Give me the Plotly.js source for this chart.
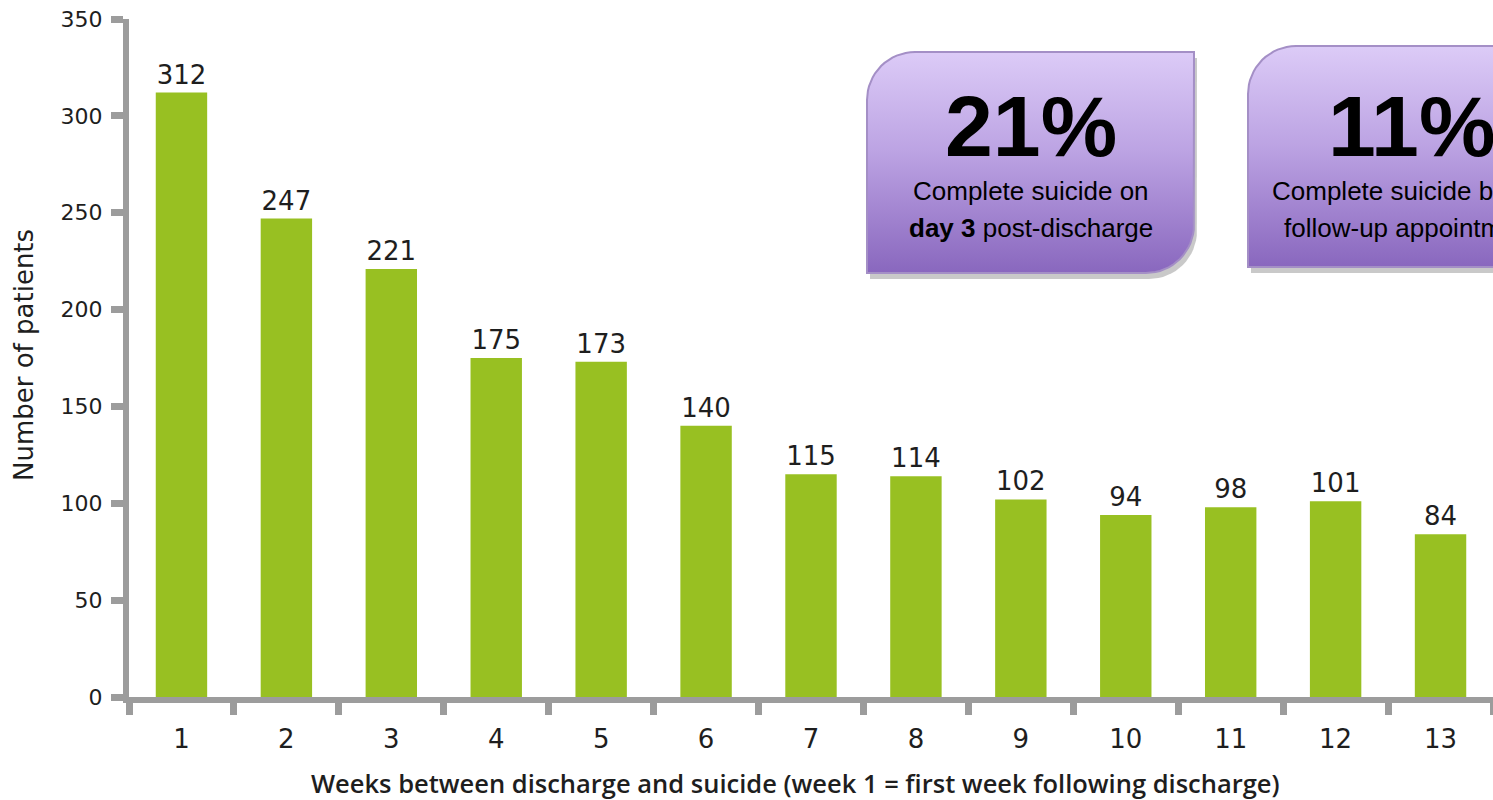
<!DOCTYPE html>
<html>
<head>
<meta charset="utf-8">
<script src="https://cdn.plot.ly/plotly-3.0.1.min.js"></script>
<style>html,body{margin:0;padding:0;background:#fff;}#chart{width:1493px;height:800px;}</style>
</head>
<body>
<div id="chart"></div>
<script>
// ---- data ----
const weeks = ["1","2","3","4","5","6","7","8","9","10","11","12","13"];
const patients = [312, 247, 221, 175, 173, 140, 115, 114, 102, 94, 98, 101, 84];
const yTicks = [0, 50, 100, 150, 200, 250, 300, 350];
const xTitle = "Weeks between discharge and suicide (week 1 = first week following discharge)";
const yTitle = "Number of patients";
const calloutBig = ["21%", "11%"];
const calloutLine1 = ["Complete suicide on", "Complete suicide before"];
const calloutLine2 = ["<b>day 3</b> post-discharge", "follow-up appointment"];

// ---- layout geometry (pixels) ----
const W = 1493, H = 800;
const L = 129, R = 0, T = 19, B = 103;
const axisGrey = "#9c9c9c";
const numFont = "DejaVu Sans, Verdana, sans-serif";
const titleFont = "Open Sans, DejaVu Sans, sans-serif";
const boxFont = "Liberation Sans Narrow, Arial Narrow, Liberation Sans, Arial, sans-serif";

// callout box frames in pixel coords [x0, y0, x1, y1]
const boxes = [[867, 52, 1194, 273], [1248, 46, 1575, 267]];
const rad = 48;

function boxOutline(b, dx, dy) {
  const [x0, y0, x1, y1] = [b[0] + dx, b[1] + dy, b[2] + dx, b[3] + dy];
  const xs = [], ys = [];
  const n = 16;
  for (let i = 0; i <= n; i++) {
    const a = Math.PI + (Math.PI / 2) * (i / n);
    xs.push(x0 + rad + rad * Math.cos(a)); ys.push(y0 + rad + rad * Math.sin(a));
  }
  xs.push(x1); ys.push(y0);
  for (let i = 0; i <= n; i++) {
    const a = (Math.PI / 2) * (i / n);
    xs.push(x1 - rad + rad * Math.cos(a)); ys.push(y1 - rad + rad * Math.sin(a));
  }
  xs.push(x0); ys.push(y1);
  xs.push(xs[0]); ys.push(ys[0]);
  return {xs, ys};
}

const traces = [{
  type: "bar",
  x: weeks,
  y: patients,
  marker: {color: "#98c022"},
  width: 0.49,
  text: patients.map(String),
  textposition: "outside",
  textfont: {family: numFont, size: 26, color: "#1e1e1e"},
  cliponaxis: false,
  hoverinfo: "x+y",
  showlegend: false
}];

boxes.forEach(b => {
  const s = boxOutline(b, 3, 6);
  traces.push({
    type: "scatter", mode: "lines", x: s.xs, y: s.ys, xaxis: "x2", yaxis: "y2",
    fill: "toself", fillcolor: "rgba(60,60,60,0.28)", line: {width: 0, color: "rgba(0,0,0,0)"},
    hoverinfo: "skip", showlegend: false
  });
  const o = boxOutline(b, 0, 0);
  traces.push({
    type: "scatter", mode: "lines", x: o.xs, y: o.ys, xaxis: "x2", yaxis: "y2",
    fill: "toself",
    fillgradient: {type: "vertical", start: b[1], stop: b[3],
      colorscale: [[0, "#dccbf7"], [0.45, "#bca3e3"], [1, "#8967be"]]},
    line: {width: 2, color: "#a48fc6"},
    hoverinfo: "skip", showlegend: false
  });
});

const px2x = px => (px - L) / (W - L - R);
const px2y = py => 1 - (py - T) / (H - T - B);

const annotations = [];
boxes.forEach((b, i) => {
  const cx = (b[0] + b[2]) / 2;
  annotations.push({xref: "paper", yref: "paper", x: px2x(cx), y: px2y(126), xanchor: "center", yanchor: "middle",
    text: "<b>" + calloutBig[i] + "</b>", showarrow: false,
    font: {family: boxFont, size: 86, color: "#000"}});
  annotations.push({xref: "paper", yref: "paper", x: px2x(cx), y: px2y(191), xanchor: "center", yanchor: "middle",
    text: calloutLine1[i], showarrow: false,
    font: {family: boxFont, size: 26, color: "#000"}});
  annotations.push({xref: "paper", yref: "paper", x: px2x(cx), y: px2y(228), xanchor: "center", yanchor: "middle",
    text: calloutLine2[i], showarrow: false,
    font: {family: boxFont, size: 26, color: "#000"}});
});
annotations.push({xref: "paper", yref: "paper", x: px2x(795), y: px2y(783), xanchor: "center", yanchor: "middle",
  text: xTitle, showarrow: false, font: {family: titleFont, size: 25.5, color: "#1e1e1e", weight: 600}});
annotations.push({xref: "paper", yref: "paper", x: px2x(24), y: px2y(355), xanchor: "center", yanchor: "middle",
  text: yTitle, textangle: -90, showarrow: false, font: {family: numFont, size: 26, color: "#1e1e1e"}});

const layout = {
  width: W, height: H,
  margin: {l: L, r: R, t: T, b: B, pad: 0},
  paper_bgcolor: "#fff", plot_bgcolor: "#fff",
  bargap: 0.51,
  showlegend: false,
  xaxis: {
    type: "category", range: [-0.5, 12.5], fixedrange: true,
    showline: true, linecolor: axisGrey, linewidth: 6,
    ticks: "outside", tickson: "boundaries", ticklen: 12, tickwidth: 7, tickcolor: axisGrey,
    showgrid: false, zeroline: false,
    tickfont: {family: numFont, size: 26, color: "#1e1e1e"},
    ticklabelstandoff: 14
  },
  yaxis: {
    range: [0, 350], fixedrange: true,
    tickvals: yTicks, ticktext: yTicks.map(String),
    showline: true, linecolor: axisGrey, linewidth: 6,
    ticks: "outside", ticklen: 12, tickwidth: 7, tickcolor: axisGrey,
    showgrid: false, zeroline: false,
    tickfont: {family: numFont, size: 22, color: "#1e1e1e"},
    ticklabelstandoff: 4
  },
  xaxis2: {overlaying: "x", range: [L, W - R], visible: false, fixedrange: true},
  yaxis2: {overlaying: "y", range: [H - B, T], visible: false, fixedrange: true},
  annotations: annotations
};

Plotly.newPlot("chart", traces, layout, {displayModeBar: false, staticPlot: true});
</script>
</body>
</html>
